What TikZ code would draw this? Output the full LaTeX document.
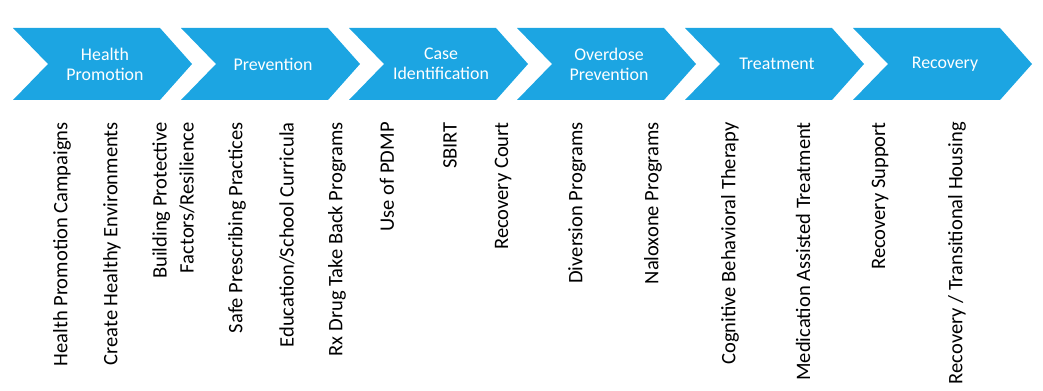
\documentclass[tikz,border=0pt]{standalone}
\usepackage{fontspec}
\setmainfont{Carlito}
\definecolor{stageblue}{RGB}{28,165,226}

\begin{document}
\begin{tikzpicture}[x=0.75pt, y=-0.75pt,
        stage/.style={text=white, font=\fontsize{13.4}{15}\selectfont, align=center},
        item/.style={rotate=90, anchor=east, inner sep=0pt, align=right,
            font=\fontsize{15.4}{20.3}\selectfont}]
    \useasboundingbox (0,0) rectangle (1043,391);
    % chevrons along the top
    \foreach \s[count=\i] in {{Health\\Promotion}, Prevention, {Case\\Identification},
            {Overdose\\Prevention}, Treatment, Recovery} {
        \pgfmathsetmacro{\px}{13+(\i-1)*168}
        \fill[stageblue] (\px,28) -- (\px+147,28) -- (\px+179,64) -- (\px+147,100)
            -- (\px,100) -- (\px+35,64) -- cycle;
        \node[stage] (stage\i) at (\px+92,64) {\s};
    }
    % activities under the stages
    \foreach \x/\t[count=\i] in {62/Health Promotion Campaigns, 112/Create Healthy Environments,
            173.5/{Building Protective\\Factors/Resilience}, 237/Safe Prescribing Practices,
            287/{Education/School Curricula}, 337/Rx Drug Take Back Programs, 387/Use of PDMP,
            450/SBIRT, 503/Recovery Court, 577/Diversion Programs, 653/Naloxone Programs,
            730/Cognitive Behavioral Therapy, 803/Medication Assisted Treatment,
            880/Recovery Support, 957/{Recovery / Transitional Housing}} {
        \node[item] (item\i) at (\x,122) {\t};
    }
\end{tikzpicture}
\end{document}
